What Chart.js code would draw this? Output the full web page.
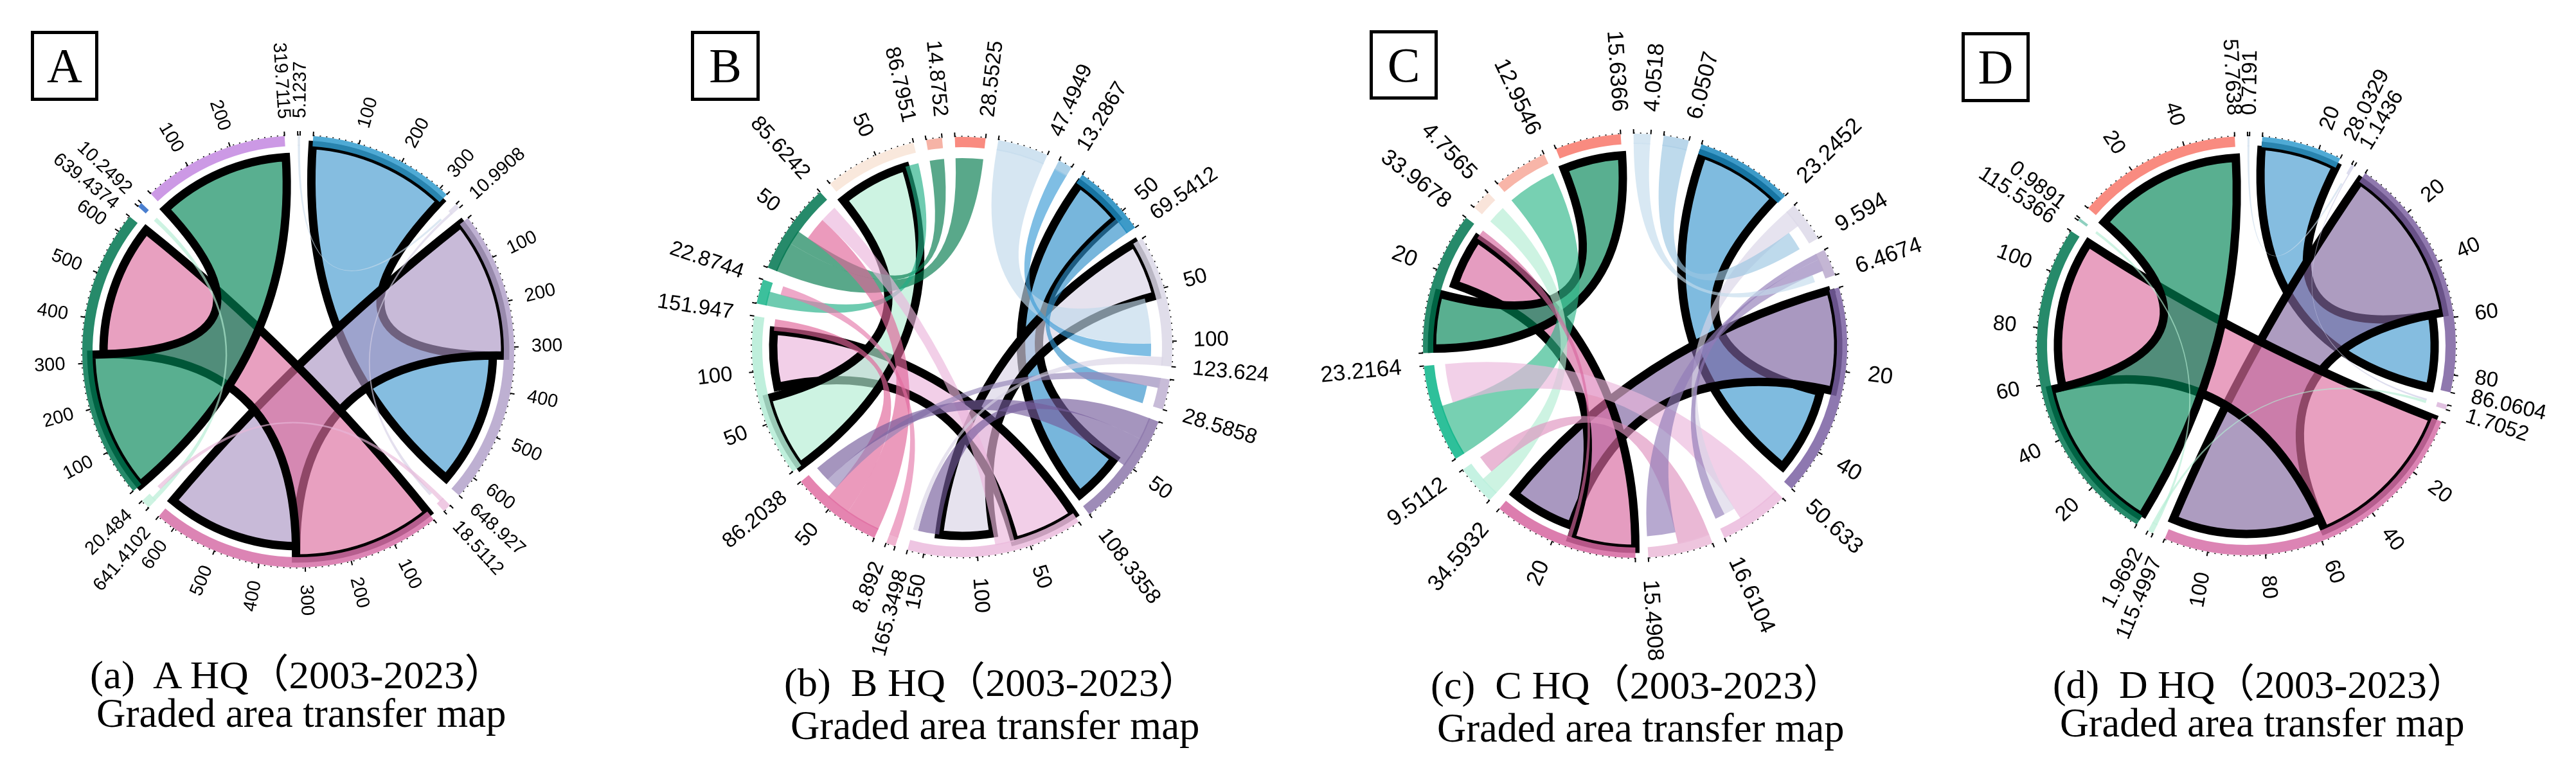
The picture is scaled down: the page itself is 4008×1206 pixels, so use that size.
<!DOCTYPE html>
<html>
<head>
<meta charset="utf-8">
<title>Graded area transfer map</title>
<script src="https://cdn.jsdelivr.net/npm/chart.js@4"></script>
<style>
  html, body { margin: 0; width: 4008px; height: 1206px; background: #fff; overflow: hidden; }
  canvas { position: absolute; }
  .box { position: absolute; box-sizing: border-box; border: 5px solid #000; text-align: center;
         font: 76px "Liberation Serif", serif; color: #000; }
  .cap { position: absolute; white-space: pre; line-height: 1; transform-origin: left top; color: #000;
         font-family: "Liberation Serif", "Noto Sans CJK SC", serif; }
</style>
</head>
<body>
<script>
// Sector totals, clockwise from the top of each diagram
const sectorsA = [319.6, 10.9908, 648.927, 18.5112, 641.4102, 20.484, 639.4374, 10.2492, 319.7115, 5.1237];
const totalsA = ['', '10.9908', '648.927', '18.5112', '641.4102', '20.484', '639.4374', '10.2492', '319.7115', '5.1237'];
const ticksA = [[100, 200, 300], [], [100, 200, 300, 400, 500, 600], [], [100, 200, 300, 400, 500, 600], [], [100, 200, 300, 400, 500, 600], [], [100, 200], []];

const sectorsB = [28.5525, 47.4949, 13.2867, 69.5412, 123.624, 28.5858, 108.3358, 165.3498, 8.892, 86.2038, 151.947, 22.8744, 85.6242, 86.7951, 14.8752];
const totalsB = ['28.5525', '47.4949', '13.2867', '69.5412', '123.624', '28.5858', '108.3358', '165.3498', '8.892', '86.2038', '151.947', '22.8744', '85.6242', '86.7951', '14.8752'];
const ticksB = [[], [], [], [50], [50, 100], [], [50], [50, 100, 150], [], [50], [50, 100], [], [50], [50], []];

const sectorsC = [4.0518, 6.0507, 23.2452, 9.594, 6.4674, 50.633, 16.6104, 15.4908, 34.5932, 9.5112, 23.2164, 33.9678, 4.7565, 12.9546, 15.6366];
const totalsC = ['4.0518', '6.0507', '23.2452', '9.594', '6.4674', '50.633', '16.6104', '15.4908', '34.5932', '9.5112', '23.2164', '33.9678', '4.7565', '12.9546', '15.6366'];
const ticksC = [[], [], [], [], [], [20, 40], [], [], [20], [], [], [20], [], [], []];

const sectorsD = [28.0329, 1.1436, 86.0604, 1.7052, 115.4997, 1.9692, 115.5366, 0.9891, 57.7638, 0.7191];
const totalsD = ['28.0329', '1.1436', '86.0604', '1.7052', '115.4997', '1.9692', '115.5366', '0.9891', '57.7638', '0.7191'];
const ticksD = [[20], [], [20, 40, 60, 80], [], [20, 40, 60, 80, 100], [], [20, 40, 60, 80, 100], [], [20, 40], []];

// Transfers: source sector, from, to, target sector, from, to (read in each sector's own units)
const ribbonsA = [
  [0, 0, 319.6, 2, 320, 639], [2, 0, 319, 4, 320, 640], [4, 0, 320, 6, 320, 639], [6, 0, 319, 8, 0, 319.7],
  [9, 0, 5.12, 1, 0, 5.12], [1, 5.12, 10.99, 3, 10.2, 18.51], [5, 0, 10.25, 7, 0, 10.25], [3, 0, 10.2, 5, 10.25, 20.48]
];
const ribbonsB = [
  [3, 3, 52, 6, 52, 104], [4, 0, 55, 7, 82, 138], [7, 0, 63, 10, 82, 140], [10, 0, 73, 13, 0, 73],
  [12, 0, 30, 0, 0, 28.55], [12, 30, 44, 14, 0, 14.87], [11, 0, 13.8, 13, 73, 86.79], [8, 0, 8.89, 11, 13.8, 22.87],
  [9, 0, 34, 12, 44, 68], [9, 34, 58, 10, 140, 151.9], [7, 63, 82, 12, 68, 85.62], [1, 0, 47.49, 4, 55, 102],
  [2, 0, 13.28, 4, 102, 115], [3, 52, 69.54, 5, 10, 28.58], [5, 0, 10, 9, 58, 70], [6, 0, 22, 7, 138, 160],
  [6, 22, 52, 9, 70, 86.2], [4, 115, 123.62, 7, 160, 165.34]
];
const ribbonsC = [
  [2, 1, 22, 5, 26, 48], [5, 0, 25, 8, 17, 34], [8, 0, 16, 11, 18, 31.4], [11, 1, 14.6, 14, 0, 15.63],
  [10, 0, 12.95, 13, 0, 12.95], [9, 0, 4.76, 12, 0, 4.75], [7, 0, 8, 9, 4.76, 9.51], [6, 0, 11, 10, 13, 23.21],
  [3, 0, 4.5, 6, 11, 14], [4, 0, 1.5, 6, 14, 16.6], [4, 1.5, 4.5, 7, 8, 15.49], [1, 0, 6.05, 3, 4.5, 9.59],
  [0, 0, 4.05, 4, 4.5, 6.46], [8, 16, 17, 11, 31.4, 33.96]
];
const ribbonsD = [
  [0, 0, 28, 2, 58, 86], [2, 0, 57.8, 4, 57.7, 115.4], [4, 0, 57.6, 6, 57.8, 115.4], [6, 0, 57.7, 8, 0, 57.76],
  [9, 0, 0.72, 1, 0, 0.72], [1, 0.72, 1.14, 3, 0, 0.7], [5, 0, 0.99, 7, 0, 0.98], [5, 0.99, 1.96, 3, 0.7, 1.7]
];

// Colours as they look on white
const ringA = ['#4FAAD5', '#E4E0EE', '#BEB0D2', '#EFC9E3', '#DC85B4', '#CDF3E2', '#008A6A', '#4A7FCF', '#CC99E5', '#E0E8F0'];
const fillA = ['#85BDE0', '#E4E0EE', '#C8BAD8', '#F0D0E6', '#E8A0C0', '#CDF3E2', '#4BAF90', '#4A7FCF', '#CC99E5', '#DDE8F2'];
const ringB = ['#F98B80', '#CFE2F0', '#ABD0E8', '#3D9AC8', '#E0DDEA', '#C8BCD8', '#9E8CB8', '#EEC5E2', '#F0B4D0', '#E585B0', '#BFEFDC', '#3CC09C', '#008A6A', '#F9E8DC', '#F6B3A6'];
const fillB = ['#F98B80', '#D6E6F2', '#7FBEE4', '#77B6DC', '#E6E2EE', '#B9AFD0', '#A595BE', '#F2CFE8', '#EEA8C8', '#EB9ABC', '#CDF3E2', '#6FCBB0', '#4BA88A', '#F9E8DC', '#F6B3A6'];
const ringC = ['#D5E6F2', '#B9D6EA', '#3D9AC8', '#E2DFEC', '#C4B6D4', '#8E78B0', '#EEC5E2', '#EEC5DE', '#DC7DAE', '#C5F2E2', '#2EC09A', '#008A6A', '#F9E4DA', '#F8B5A8', '#F98B80'];
const fillC = ['#D8E8F3', '#BEDAEC', '#7FBBDF', '#E6E3EF', '#B7A9D0', '#A998C0', '#F2D0E8', '#EAB8D5', '#E59CC0', '#CDF3E2', '#77D0B2', '#4BAF90', '#F9E4DA', '#F8B5A8', '#F98B80'];
const ringD = ['#4FAAD5', '#DDDDEE', '#8F78AE', '#E0C0E0', '#DC85B4', '#CDF3E2', '#008A6A', '#8FD0C0', '#F98B80', '#DDE8F2'];
const fillD = ['#85BDE0', '#DDDDEE', '#AD9CC0', '#EFC9E3', '#E8A0C0', '#CDF3E2', '#4BAF90', '#8FD0C0', '#F98B80', '#DDE8F2'];

const captionTop = ['(a)  A HQ（2003-2023）', '(b)  B HQ（2003-2023）', '(c)  C HQ（2003-2023）', '(d)  D HQ（2003-2023）'];
const captionBottom = ['Graded area transfer map', 'Graded area transfer map', 'Graded area transfer map', 'Graded area transfer map'];

const CANVAS = 980;
const GAP_DEG = 3.5;

const panels = [
  { letter: 'A', cx: 464, cy: 547, R: 336, rot: 4, sectors: sectorsA, totals: totalsA, ticks: ticksA, ribbons: ribbonsA, ring: ringA, fill: fillA, outlineMin: 300, font: 29, labelGap: 27,
    box: [48, 48, 105, 109], top: [140, 1071, 645], bottom: [150, 1132, 638] },
  { letter: 'B', cx: 1497, cy: 540, R: 327, rot: -2, sectors: sectorsB, totals: totalsB, ticks: ticksB, ribbons: ribbonsB, ring: ringB, fill: fillB, outlineMin: 48, font: 33, labelGap: 33,
    box: [1075, 48, 107, 109], top: [1220, 1083, 645], bottom: [1230, 1151, 637] },
  { letter: 'C', cx: 2544, cy: 538, R: 330, rot: -0.4, sectors: sectorsC, totals: totalsC, ticks: ticksC, ribbons: ribbonsC, ring: ringC, fill: fillC, outlineMin: 13, font: 35, labelGap: 35,
    box: [2131, 47, 106, 108], top: [2226, 1087, 642], bottom: [2236, 1155, 634] },
  { letter: 'D', cx: 3495, cy: 538, R: 326, rot: 4.4, sectors: sectorsD, totals: totalsD, ticks: ticksD, ribbons: ribbonsD, ring: ringD, fill: fillD, outlineMin: 20, font: 33, labelGap: 33,
    box: [3052, 50, 106, 109], top: [3194, 1086, 644], bottom: [3205, 1147, 630] }
];

// Colour that gives `hex` on white when painted with this alpha
function seeThrough(hex, alpha) {
  const n = parseInt(hex.slice(1), 16);
  const c = [n >> 16, (n >> 8) & 255, n & 255].map(v => Math.max(0, Math.round((v - 255 * (1 - alpha)) / alpha)));
  return `rgba(${c[0]},${c[1]},${c[2]},${alpha})`;
}

// Ribbons go under the ring, ticks and labels on top of it
function chordPlugin(p) {
  const arcAt = (chart, i) => chart.getDatasetMeta(0).data[i * 2];
  const angle = (chart, i, v) => {
    const arc = arcAt(chart, i);
    return arc.startAngle + (v / p.sectors[i]) * (arc.endAngle - arc.startAngle);
  };
  return {
    id: 'chord' + p.letter,
    beforeDatasetsDraw(chart) {
      const ctx = chart.ctx;
      const first = arcAt(chart, 0);
      const x = first.x, y = first.y;
      const rs = first.outerRadius - 14, rt = first.outerRadius - 33;
      const isBig = r => r[2] - r[1] >= p.outlineMin;
      // outlined transfers first, the thin ones show over their strokes
      const order = p.ribbons.filter(isBig).concat(p.ribbons.filter(r => !isBig(r)));
      order.forEach(r => {
        const a0 = angle(chart, r[0], r[1]), a1 = angle(chart, r[0], r[2]);
        const b0 = angle(chart, r[3], r[4]), b1 = angle(chart, r[3], r[5]);
        ctx.beginPath();
        ctx.arc(x, y, rs, a0, a1);
        ctx.quadraticCurveTo(x, y, x + rt * Math.cos(b0), y + rt * Math.sin(b0));
        ctx.arc(x, y, rt, b0, b1);
        ctx.quadraticCurveTo(x, y, x + rs * Math.cos(a0), y + rs * Math.sin(a0));
        ctx.closePath();
        ctx.fillStyle = seeThrough(p.fill[r[0]], 0.65);
        ctx.fill();
        if (isBig(r)) {
          ctx.lineWidth = 13;
          ctx.lineJoin = 'miter';
          ctx.strokeStyle = '#000';
          ctx.stroke();
        }
      });
    },
    afterDatasetsDraw(chart) {
      const ctx = chart.ctx;
      const first = arcAt(chart, 0);
      const x = first.x, y = first.y, R = first.outerRadius;
      const text = (a, s) => {
        const r = R + p.labelGap;
        const clock = ((a + Math.PI / 2) % (2 * Math.PI) + 2 * Math.PI) % (2 * Math.PI);
        ctx.save();
        ctx.translate(x + r * Math.cos(a), y + r * Math.sin(a));
        if (clock < Math.PI) {
          ctx.rotate(a);
          ctx.textAlign = 'left';
        } else {
          ctx.rotate(a + Math.PI);
          ctx.textAlign = 'right';
        }
        ctx.textBaseline = 'middle';
        ctx.font = `${p.font}px "Liberation Sans", sans-serif`;
        ctx.fillStyle = '#000';
        ctx.fillText(s, 0, 0);
        ctx.restore();
      };
      const tick = a => {
        ctx.beginPath();
        ctx.moveTo(x + R * Math.cos(a), y + R * Math.sin(a));
        ctx.lineTo(x + (R + 7) * Math.cos(a), y + (R + 7) * Math.sin(a));
        ctx.stroke();
      };
      ctx.strokeStyle = '#000';
      p.sectors.forEach((v, i) => {
        const arc = arcAt(chart, i);
        ctx.lineWidth = 1.5;
        ctx.setLineDash([2, 8]);
        ctx.beginPath();
        ctx.arc(x, y, R + 1, arc.startAngle, arc.endAngle);
        ctx.stroke();
        ctx.setLineDash([]);
        ctx.lineWidth = 2;
        tick(arc.startAngle);
        tick(arc.endAngle);
        p.ticks[i].forEach(t => {
          const a = angle(chart, i, t);
          tick(a);
          text(a, String(t));
        });
        if (p.totals[i]) text(arc.endAngle, p.totals[i]);
      });
    }
  };
}

panels.forEach((p, n) => {
  const canvas = document.createElement('canvas');
  canvas.width = CANVAS;
  canvas.height = CANVAS;
  canvas.style.left = (p.cx - CANVAS / 2) + 'px';
  canvas.style.top = (p.cy - CANVAS / 2) + 'px';
  canvas.style.width = CANVAS + 'px';
  canvas.style.height = CANVAS + 'px';
  document.body.appendChild(canvas);

  // each sector is followed by a blank slice, the gaps are equal in degrees
  const total = p.sectors.reduce((s, v) => s + v, 0);
  const gap = GAP_DEG * total / (360 - p.sectors.length * GAP_DEG);
  const values = p.sectors.flatMap(v => [v, gap]);
  const colours = p.ring.flatMap(c => [seeThrough(c, 0.85), 'rgba(0,0,0,0)']);
  const names = p.totals.flatMap(t => [t, '']);

  new Chart(canvas.getContext('2d'), {
    type: 'doughnut',
    data: { labels: names, datasets: [{ data: values, backgroundColor: colours, borderWidth: 0 }] },
    options: {
      responsive: false,
      animation: false,
      devicePixelRatio: 1,
      rotation: p.rot,
      radius: p.R,
      cutout: ((p.R - 16) / p.R * 100) + '%',
      plugins: { legend: { display: false }, tooltip: { enabled: false } }
    },
    plugins: [chordPlugin(p)]
  });

  const box = document.createElement('div');
  box.className = 'box';
  box.textContent = p.letter;
  box.style.cssText = `left:${p.box[0]}px;top:${p.box[1]}px;width:${p.box[2]}px;height:${p.box[3]}px;line-height:${p.box[3] - 10}px`;
  document.body.appendChild(box);

  [[captionTop[n], p.top, 62], [captionBottom[n], p.bottom, 64]].forEach(([s, pos, size]) => {
    const cap = document.createElement('div');
    cap.className = 'cap';
    cap.textContent = s;
    cap.style.fontSize = size + 'px';
    cap.style.left = pos[0] + 'px';
    cap.style.top = (pos[1] - size * 0.8375) + 'px';
    document.body.appendChild(cap);
    cap.style.transform = `scaleX(${pos[2] / cap.offsetWidth})`;
  });
});
</script>
</body>
</html>
